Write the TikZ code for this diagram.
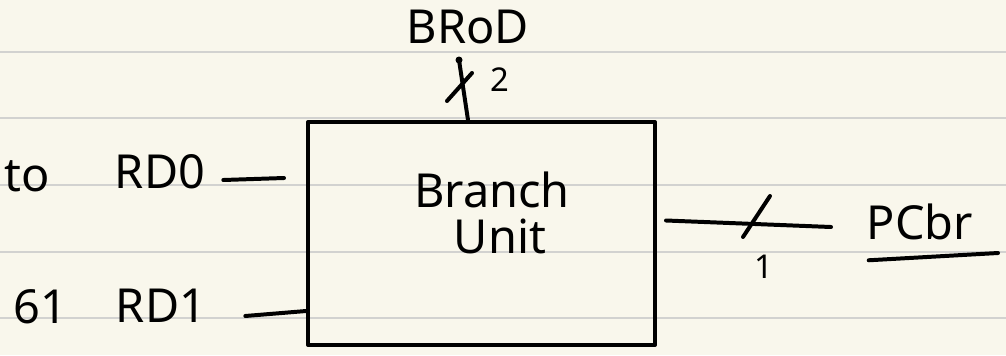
\documentclass[tikz,border=0pt]{standalone}
\usepackage{fontspec}
\setmainfont{Noto Sans}
\usepackage{tikz}
\definecolor{paper}{HTML}{F9F7EC}
\definecolor{ruling}{HTML}{D2D2D0}
\tikzset{
	hand/.style={line width=3.4pt, line cap=round, line join=round},
	lbl/.style={inner sep=0pt, font=\fontsize{40}{44}\selectfont},
	small/.style={inner sep=0pt, font=\fontsize{28}{30}\selectfont},
	unitbox/.style={hand, draw, rectangle, minimum width=10.41cm, minimum height=6.69cm}
}

\begin{document}
\begin{tikzpicture}[x=0.03cm, y=-0.03cm]
		%%%%% START %%%%%
		\useasboundingbox (0, 0) rectangle (1006, 355);
		\fill[paper] (0, 0) rectangle (1006, 355);
		\foreach \y in {52, 118, 185, 252, 318}
			\draw[ruling, line width=1.6pt] (0, \y) -- (1006, \y);
		
		\node[unitbox] (bu) at (481.5, 233.5) {};
		\node[lbl] (bulabel) at (492, 190) {Branch};
		\node[lbl] (bulabel2) at (500, 236) {Unit};
		
		\node[lbl] (to) at (27, 176) {to};
		\node[lbl] (rd0) at (160, 172) {RD0};
		\coordinate (in0) at (284, 178);
		\draw[hand] (rd0.east) ++(18, 8) -- (in0);
		
		\node[lbl] (six) at (40, 307) {61};
		\node[lbl] (rd1) at (161, 306) {RD1};
		\coordinate (in1) at (306, 311);
		\draw[hand] (rd1.east) ++(39, 10) -- (in1);
		
		\node[lbl] (brod) at (468, 27) {BRoD};
		\coordinate (brtop) at (459, 60);
		\draw[hand] (bu.north -| 468, 0) -- (brtop);
		\fill (brtop) circle (3.5);
		\draw[hand] (447, 101) -- (472, 73);
		\node[small] (two) at (500, 80) {2};
		
		\node[lbl] (pcbr) at (920, 222) {PCbr};
		\coordinate (pcend) at (831, 227);
		\draw[hand] (bu.east) ++(9, -13) -- (pcend);
		\draw[hand] (743, 237) -- (770, 196);
		\node[small] (one) at (764, 267) {1};
		\draw[hand] (pcbr.south west) ++(2, 20) -- (998, 253);
		%%%%% END %%%%%
	\end{tikzpicture}
\end{document}
